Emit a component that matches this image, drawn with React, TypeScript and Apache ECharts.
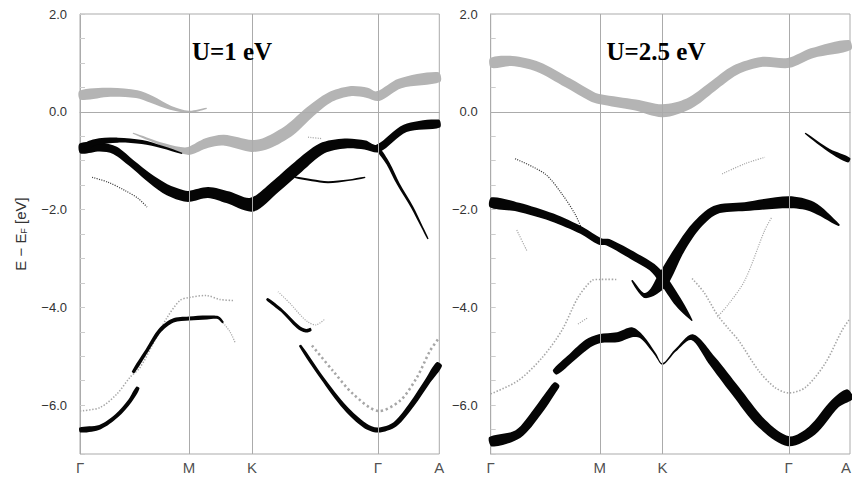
import React, { useEffect, useRef } from 'react';
import * as echarts from 'echarts';

// ---- axes ----
const kPoints = [0, 0.577, 0.91, 1.577, 1.902];
const kLabels = ['Γ', 'M', 'K', 'Γ', 'A'];
const energyMin = -7;
const energyMax = 2;
const energyStep = 0.5;
const panelTitles = ['U=1 eV', 'U=2.5 eV'];

// ---- bands: [k, E - E_F (eV), projected weight] ----
// U = 1 eV
const u1Gray1 = [[0, 0.34, 0.9], [0.16, 0.4, 0.9], [0.3, 0.36, 0.8], [0.38, 0.25, 0.7], [0.48, 0.08, 0.4], [0.577, 0.0, 0.2], [0.67, 0.07, 0.1]];
const u1Gray2 = [[0.281, -0.44, 0.1], [0.424, -0.65, 0.3], [0.529, -0.78, 0.6], [0.577, -0.8, 0.8], [0.672, -0.64, 1.0], [0.76, -0.58, 1.1], [0.91, -0.7, 1.2], [0.99, -0.64, 1.2], [1.112, -0.37, 1.2], [1.218, 0.0, 1.1], [1.324, 0.3, 1.0], [1.429, 0.42, 1.0], [1.519, 0.39, 1.0], [1.577, 0.32, 1.0], [1.694, 0.58, 1.0], [1.902, 0.71, 1.0]];
const u1Black1 = [[0, -0.75, 1.0], [0.106, -0.72, 0.9], [0.185, -0.79, 0.8], [0.275, -1.06, 0.7], [0.36, -1.33, 0.8], [0.45, -1.57, 1.0], [0.54, -1.71, 1.1], [0.577, -1.73, 1.1], [0.678, -1.65, 1.1], [0.783, -1.75, 1.2], [0.91, -1.9, 1.4], [1.032, -1.54, 1.2], [1.154, -1.13, 1.2], [1.281, -0.75, 1.1], [1.403, -0.65, 1.0], [1.509, -0.68, 0.9], [1.577, -0.75, 0.8], [1.721, -0.34, 0.8], [1.902, -0.24, 0.8]];
const u1Black2 = [[0.03, -0.72, 0.7], [0.079, -0.62, 0.6], [0.201, -0.58, 0.5], [0.328, -0.62, 0.4], [0.434, -0.72, 0.25], [0.54, -0.85, 0.12]];
const u1Black3 = [[1.577, -0.75, 0.35], [1.631, -1.06, 0.35], [1.684, -1.47, 0.3], [1.758, -1.95, 0.25], [1.811, -2.36, 0.18], [1.842, -2.6, 0.1]];
const u1Black4 = [[1.138, -1.34, 0.15], [1.228, -1.4, 0.2], [1.313, -1.44, 0.2], [1.419, -1.4, 0.15], [1.509, -1.34, 0.1]];
const u1Dot1 = [[0.064, -1.34, 0.15], [0.148, -1.44, 0.15], [0.238, -1.61, 0.15], [0.307, -1.77, 0.15], [0.355, -1.95, 0.1]];
const u1Dot2 = [[1.207, -0.52, 0.1], [1.281, -0.55, 0.1]];
const u1Black5 = [[0, -6.51, 0.5], [0.106, -6.45, 0.45], [0.194, -6.22, 0.4], [0.265, -5.91, 0.4], [0.307, -5.64, 0.35]];
const u1Black6 = [[0.281, -5.33, 0.3], [0.355, -4.88, 0.35], [0.424, -4.47, 0.4], [0.492, -4.27, 0.4], [0.577, -4.23, 0.4], [0.672, -4.21, 0.4], [0.731, -4.21, 0.3], [0.757, -4.31, 0.2]];
const u1Dot3 = [[0, -6.12, 0.3], [0.106, -6.05, 0.25], [0.196, -5.77, 0.2], [0.265, -5.43, 0.2], [0.318, -5.23, 0.2], [0.386, -4.75, 0.2], [0.461, -4.21, 0.2], [0.529, -3.86, 0.15], [0.577, -3.8, 0.15], [0.672, -3.76, 0.15], [0.741, -3.84, 0.15], [0.81, -3.86, 0.15]];
const u1Dot4 = [[0.741, -4.24, 0.15], [0.794, -4.5, 0.15], [0.821, -4.72, 0.15]];
const u1Black7 = [[0.99, -3.83, 0.25], [1.069, -4.07, 0.3], [1.154, -4.4, 0.35], [1.196, -4.48, 0.35], [1.223, -4.45, 0.3]];
const u1Dot5 = [[1.048, -3.68, 0.15], [1.112, -3.92, 0.15], [1.165, -4.15, 0.15], [1.207, -4.3, 0.15], [1.25, -4.36, 0.15], [1.297, -4.24, 0.15]];
const u1Black8 = [[1.165, -4.78, 0.25], [1.281, -5.44, 0.35], [1.403, -6.05, 0.45], [1.509, -6.42, 0.5], [1.577, -6.51, 0.5], [1.668, -6.39, 0.5], [1.758, -5.98, 0.55], [1.842, -5.5, 0.6], [1.902, -5.16, 0.65]];
const u1Dot6 = [[1.228, -4.78, 0.2], [1.339, -5.3, 0.25], [1.445, -5.77, 0.3], [1.577, -6.12, 0.3], [1.694, -5.91, 0.3], [1.784, -5.43, 0.35], [1.853, -4.89, 0.4], [1.902, -4.62, 0.45]];

// U = 2.5 eV
const u25Gray1 = [[0, 1.0, 1.0], [0.113, 1.04, 1.0], [0.25, 0.92, 1.0], [0.409, 0.59, 1.0], [0.536, 0.31, 1.0], [0.577, 0.26, 1.0], [0.764, 0.14, 1.1], [0.91, 0.02, 1.3], [1.05, 0.17, 1.1], [1.172, 0.51, 1.0], [1.294, 0.85, 1.0], [1.436, 1.02, 1.0], [1.577, 1.0, 1.0], [1.701, 1.2, 1.0], [1.902, 1.37, 1.0]];
const u25Black1 = [[0, -1.85, 1.0], [0.145, -1.95, 0.9], [0.325, -2.16, 0.8], [0.483, -2.43, 0.7], [0.577, -2.65, 0.7], [0.621, -2.67, 0.7], [0.764, -2.97, 0.8], [0.854, -3.18, 0.8], [0.91, -3.42, 0.9], [0.997, -3.92, 0.8], [1.066, -4.27, 0.1]];
const u25Black2 = [[0.748, -3.45, 0.15], [0.79, -3.68, 0.3], [0.817, -3.76, 0.5], [0.86, -3.68, 0.8], [0.91, -3.45, 1.3], [0.997, -2.84, 1.0], [1.082, -2.36, 0.9], [1.188, -2.01, 0.9], [1.347, -1.94, 0.9], [1.577, -1.85, 1.2], [1.701, -1.94, 1.0], [1.844, -2.32, 0.2]];
const u25Black3 = [[1.665, -0.44, 0.1], [1.791, -0.79, 0.3], [1.897, -0.99, 0.5]];
const u25Dot1 = [[0.129, -0.96, 0.15], [0.287, -1.27, 0.15], [0.377, -1.68, 0.15], [0.446, -2.09, 0.15], [0.499, -2.5, 0.15], [0.545, -2.64, 0.15]];
const u25Dot2 = [[1.225, -1.27, 0.1], [1.347, -1.06, 0.1], [1.452, -0.93, 0.1]];
const u25Dot3 = [[0, -5.77, 0.2], [0.145, -5.5, 0.2], [0.272, -5.03, 0.2], [0.377, -4.47, 0.2], [0.462, -3.8, 0.2], [0.536, -3.45, 0.2], [0.577, -3.43, 0.2], [0.674, -3.43, 0.2]];
const u25Dot4 = [[1.066, -3.41, 0.15], [1.13, -3.7, 0.15], [1.199, -4.15, 0.15], [1.262, -4.45, 0.2], [1.313, -4.68, 0.2], [1.419, -5.3, 0.2], [1.505, -5.64, 0.2], [1.577, -5.75, 0.2], [1.665, -5.64, 0.2], [1.77, -5.15, 0.2], [1.86, -4.47, 0.25], [1.902, -4.23, 0.3]];
const u25Dot5 = [[1.199, -4.2, 0.15], [1.26, -3.93, 0.15], [1.345, -3.45, 0.15], [1.451, -2.42, 0.15], [1.489, -2.15, 0.15]];
const u25Dot6 = [[0.462, -4.34, 0.12], [0.515, -4.21, 0.12]];
const u25Dot7 = [[0.138, -2.42, 0.1], [0.191, -2.84, 0.1]];
const u25Black4a = [[0, -6.75, 1.0], [0.145, -6.59, 0.9], [0.25, -6.12, 0.9], [0.325, -5.71, 0.8], [0.351, -5.57, 0.6]];
const u25Black4b = [[0.34, -5.33, 0.6], [0.43, -5.02, 0.8], [0.515, -4.74, 0.9], [0.577, -4.64, 0.9], [0.674, -4.61, 1.0], [0.748, -4.51, 1.0], [0.801, -4.61, 0.4], [0.87, -4.95, 0.2], [0.91, -5.16, 0.15], [0.976, -4.89, 0.2], [1.066, -4.61, 0.6], [1.172, -5.09, 0.9], [1.294, -5.7, 1.0], [1.436, -6.38, 1.0], [1.577, -6.74, 1.0], [1.701, -6.52, 1.0], [1.823, -5.97, 1.0], [1.902, -5.77, 1.1]];

type Band = { data: number[][]; kind: 'gray' | 'black' | 'dotGray' | 'dotDark' };

const panels: Band[][] = [
  [
    { data: u1Dot1, kind: 'dotDark' },
    { data: u1Dot2, kind: 'dotGray' },
    { data: u1Dot3, kind: 'dotGray' },
    { data: u1Dot4, kind: 'dotGray' },
    { data: u1Dot5, kind: 'dotGray' },
    { data: u1Dot6, kind: 'dotGray' },
    { data: u1Gray1, kind: 'gray' },
    { data: u1Gray2, kind: 'gray' },
    { data: u1Black1, kind: 'black' },
    { data: u1Black2, kind: 'black' },
    { data: u1Black3, kind: 'black' },
    { data: u1Black4, kind: 'black' },
    { data: u1Black5, kind: 'black' },
    { data: u1Black6, kind: 'black' },
    { data: u1Black7, kind: 'black' },
    { data: u1Black8, kind: 'black' },
  ],
  [
    { data: u25Dot1, kind: 'dotDark' },
    { data: u25Dot2, kind: 'dotGray' },
    { data: u25Dot3, kind: 'dotGray' },
    { data: u25Dot4, kind: 'dotGray' },
    { data: u25Dot5, kind: 'dotGray' },
    { data: u25Dot6, kind: 'dotGray' },
    { data: u25Dot7, kind: 'dotGray' },
    { data: u25Gray1, kind: 'gray' },
    { data: u25Black1, kind: 'black' },
    { data: u25Black2, kind: 'black' },
    { data: u25Black3, kind: 'black' },
    { data: u25Black4a, kind: 'black' },
    { data: u25Black4b, kind: 'black' },
  ],
];

const WIDTH_SCALE = 10;
const FILLS: Record<string, string> = { gray: '#b4b4b4', black: '#050505' };
const STROKES: Record<string, string> = { dotGray: '#a6a6a6', dotDark: '#3a3a3a' };

function renderBand(kind: string) {
  return (params: any, api: any) => {
    if (params.dataIndexInside !== 0) return null;
    const n = params.dataInsideLength;
    const pts: number[][] = [];
    for (let i = 0; i < n; i++) {
      const c = api.coord([api.value(0, i), api.value(1, i)]);
      pts.push([c[0], c[1], api.value(2, i) * WIDTH_SCALE]);
    }
    if (kind === 'dotGray' || kind === 'dotDark') {
      const lw = Math.max(1.2, 0.8 * pts.reduce((s, p) => s + p[2], 0) / n);
      return {
        type: 'polyline',
        shape: { points: pts.map((p) => [p[0], p[1]]), smooth: 0.3 },
        style: { stroke: STROKES[kind], fill: 'none', lineWidth: lw, lineDash: [lw * 0.9, lw * 1.1] },
      };
    }
    const up: number[][] = [];
    const lo: number[][] = [];
    for (let i = 0; i < n; i++) {
      const a = pts[Math.max(0, i - 1)];
      const b = pts[Math.min(n - 1, i + 1)];
      let tx = b[0] - a[0];
      let ty = b[1] - a[1];
      const L = Math.hypot(tx, ty) || 1;
      tx /= L;
      ty /= L;
      const h = Math.max(0.6, pts[i][2] / 2);
      up.push([pts[i][0] - ty * h, pts[i][1] + tx * h]);
      lo.push([pts[i][0] + ty * h, pts[i][1] - tx * h]);
    }
    return {
      type: 'polygon',
      shape: { points: up.concat(lo.reverse()), smooth: 0.3 },
      style: { fill: FILLS[kind], stroke: 'none' },
    };
  };
}

const AXIS_COLOR = '#ababab';

function yLabel(v: number) {
  const r = Math.round(v * 10) / 10;
  if (Math.abs(r % 2) > 1e-6) return '';
  return (r < 0 ? '\u2212' : '') + Math.abs(r).toFixed(1);
}

function buildOption() {
  const gridLefts = [80, 490.7];
  const grid = gridLefts.map((left) => ({
    left,
    top: 14,
    width: 359.3,
    height: 440,
    show: true,
    borderColor: AXIS_COLOR,
    borderWidth: 1,
    backgroundColor: 'transparent',
  }));
  const xAxis = [0, 1].map((i) => ({
    type: 'value',
    gridIndex: i,
    min: kPoints[0],
    max: kPoints[kPoints.length - 1],
    axisLine: { show: true, lineStyle: { color: AXIS_COLOR } },
    axisTick: { show: false },
    axisLabel: { show: false },
    splitLine: { show: false },
  }));
  const yAxis = [0, 1].map((i) => ({
    type: 'value',
    gridIndex: i,
    min: energyMin,
    max: energyMax,
    interval: energyStep,
    axisLine: { show: true, lineStyle: { color: AXIS_COLOR } },
    axisTick: { show: true, inside: true, length: 5, lineStyle: { color: '#cccccc' } },
    axisLabel: {
      formatter: yLabel,
      margin: 13,
      fontSize: 13,
      color: '#333',
      fontFamily: 'Liberation Sans',
      hideOverlap: false,
    },
    splitLine: { show: false },
    name: i === 0 ? 'E \u2212 E{s|F} [eV]' : '',
    nameLocation: 'middle',
    nameGap: 52,
    nameRotate: 90,
    nameTextStyle: {
      fontSize: 15,
      color: '#333',
      fontFamily: 'Liberation Sans',
      rich: { s: { fontSize: 9, verticalAlign: 'bottom', color: '#333', fontFamily: 'Liberation Sans', padding: [6, 0, 0, 0] } },
    },
  }));

  const series: any[] = [];
  panels.forEach((bands, p) => {
    series.push({
      type: 'scatter',
      xAxisIndex: p,
      yAxisIndex: p,
      symbolSize: 0,
      z: 1,
      silent: true,
      data: kPoints.map((k, i) => ({
        name: kLabels[i],
        value: [k, energyMin],
        label: p === 1 && i === kPoints.length - 1 ? { offset: [-4, 0] } : undefined,
      })),
      label: {
        show: true,
        position: 'bottom',
        distance: 6,
        formatter: '{b}',
        fontSize: 15,
        color: '#222',
        fontFamily: 'Liberation Sans',
      },
      markLine: {
        silent: true,
        symbol: 'none',
        animation: false,
        label: { show: false },
        lineStyle: { color: AXIS_COLOR, type: 'solid', width: 1 },
        data: [
          ...kPoints.slice(1, kPoints.length - 1).map((k) => ({ xAxis: k })),
          { yAxis: 0 },
        ],
      },
    });
    bands.forEach((b) => {
      series.push({
        type: 'custom',
        coordinateSystem: 'cartesian2d',
        xAxisIndex: p,
        yAxisIndex: p,
        z: b.kind === 'black' ? 4 : b.kind === 'gray' ? 3 : 2,
        silent: true,
        clip: false,
        encode: { x: 0, y: 1 },
        data: b.data,
        renderItem: renderBand(b.kind),
      });
    });
  });

  const titleCenters = [[232, 51], [656, 51]];
  const graphic = panelTitles.map((t, i) => ({
    type: 'text',
    x: titleCenters[i][0],
    y: titleCenters[i][1],
    z: 10,
    style: {
      text: t,
      font: 'bold 25px "Liberation Serif"',
      fill: '#000',
      textAlign: 'center',
      textVerticalAlign: 'middle',
    },
  }));

  return {
    animation: false,
    backgroundColor: '#ffffff',
    grid,
    xAxis,
    yAxis,
    series,
    graphic,
  };
}

export default function App() {
  const ref = useRef<HTMLDivElement>(null);
  useEffect(() => {
    if (!ref.current) return;
    const chart = echarts.init(ref.current, undefined, { renderer: 'svg' });
    chart.setOption(buildOption() as any);
    return () => chart.dispose();
  }, []);
  return <div ref={ref} style={{ width: 852, height: 482, position: 'absolute', left: 0, top: 0 }} />;
}
